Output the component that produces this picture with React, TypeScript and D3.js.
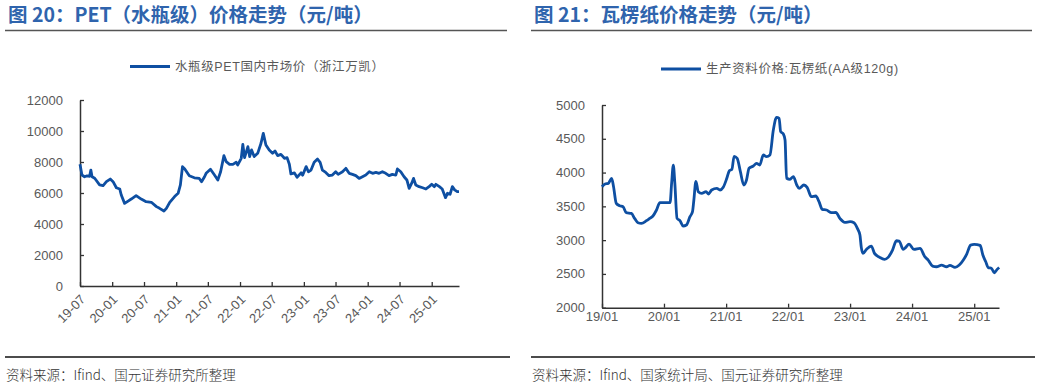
import React, { useEffect, useRef } from 'react'
import * as d3 from 'd3'

// 图20 水瓶级PET国内市场价（浙江万凯），元/吨
const petDates = [
  '2019-07-01', '2019-07-12', '2019-07-27', '2019-08-10', '2019-08-25', '2019-09-01', '2019-09-08', '2019-09-23',
  '2019-10-21', '2019-11-10', '2019-11-29', '2019-12-21', '2020-01-06', '2020-01-25', '2020-02-13', '2020-02-22',
  '2020-03-12', '2020-04-01', '2020-04-19', '2020-05-17', '2020-06-15', '2020-07-13', '2020-08-12', '2020-09-10',
  '2020-09-28', '2020-10-23', '2020-11-06', '2020-11-25', '2020-12-23', '2021-01-12', '2021-01-25', '2021-02-06',
  '2021-02-19', '2021-03-17', '2021-04-15', '2021-05-13', '2021-05-26', '2021-06-12', '2021-06-21', '2021-07-16',
  '2021-08-08', '2021-08-27', '2021-09-12', '2021-10-01', '2021-10-14', '2021-11-02', '2021-11-21', '2021-12-10',
  '2021-12-19', '2022-01-08', '2022-01-17', '2022-01-27', '2022-02-15', '2022-02-25', '2022-03-08', '2022-03-23',
  '2022-04-12', '2022-05-01', '2022-05-14', '2022-05-29', '2022-06-17', '2022-07-06', '2022-07-20', '2022-08-04',
  '2022-08-23', '2022-09-12', '2022-09-27', '2022-10-10', '2022-10-19', '2022-11-08', '2022-11-23', '2022-12-16',
  '2022-12-25', '2023-01-14', '2023-01-27', '2023-02-11', '2023-03-01', '2023-03-20', '2023-04-04', '2023-04-17',
  '2023-05-06', '2023-05-25', '2023-06-13', '2023-07-02', '2023-07-16', '2023-08-10', '2023-08-29', '2023-09-17',
  '2023-10-06', '2023-10-25', '2023-11-13', '2023-12-02', '2023-12-21', '2024-01-10', '2024-01-29', '2024-02-17',
  '2024-03-06', '2024-03-25', '2024-04-13', '2024-05-02', '2024-05-21', '2024-06-10', '2024-06-19', '2024-07-08',
  '2024-07-27', '2024-08-12', '2024-08-25', '2024-09-08', '2024-09-19', '2024-10-02', '2024-10-21', '2024-11-10',
  '2024-11-29', '2024-12-17', '2025-01-01', '2025-01-16', '2025-01-25', '2025-02-14', '2025-03-02', '2025-03-21',
  '2025-04-01', '2025-04-16', '2025-04-29', '2025-05-12', '2025-05-27', '2025-06-06',
]
const petValues = [
  7850, 7160, 7050, 7100, 7080, 7480, 7050, 6950,
  6520, 6470, 6730, 6900, 6730, 6340, 6260, 5870,
  5330, 5480, 5610, 5830, 5610, 5440, 5400, 5120,
  5010, 4840, 5010, 5400, 5770, 5980, 6520, 7700,
  7550, 7110, 6980, 6940, 6730, 7050, 7270, 7530,
  7160, 6840, 7370, 8410, 8020, 7850, 7850, 7980,
  7810, 8240, 9140, 8280, 8990, 8350, 8780, 8350,
  8560, 9210, 9850, 9100, 8770, 8560, 8710, 8410,
  8490, 8240, 8280, 7850, 7230, 7300, 7020, 7300,
  7150, 7700, 7370, 7480, 7980, 8190, 7980, 7480,
  7330, 7120, 7160, 7370, 7200, 7370, 7590, 7270,
  7200, 7120, 6940, 7050, 7160, 7370, 7270, 7330,
  7270, 7370, 7270, 7120, 7200, 7160, 7550, 7370,
  7050, 6840, 6300, 6620, 6940, 6520, 6410, 6340,
  6260, 6410, 6560, 6410, 6560, 6410, 6260, 5700,
  5980, 5920, 6410, 6200, 6090, 6090,
]
const petYTicks = [0, 2000, 4000, 6000, 8000, 10000, 12000]

// 图21 生产资料价格:瓦楞纸(AA级120g)，元/吨
const paperDates = [
  '2019-01-01', '2019-01-19', '2019-02-07', '2019-02-27', '2019-03-10', '2019-03-26', '2019-04-15', '2019-05-05',
  '2019-05-24', '2019-06-23', '2019-07-12', '2019-08-01', '2019-08-21', '2019-09-20', '2019-10-09', '2019-10-28',
  '2019-11-18', '2019-12-08', '2020-01-07', '2020-02-06', '2020-02-15', '2020-02-25', '2020-03-05', '2020-03-18',
  '2020-04-04', '2020-04-23', '2020-05-12', '2020-06-02', '2020-06-17', '2020-06-25', '2020-07-07', '2020-07-21',
  '2020-08-10', '2020-09-05', '2020-09-18', '2020-10-08', '2020-11-07', '2020-11-26', '2020-12-15', '2021-01-05',
  '2021-01-20', '2021-02-04', '2021-02-17', '2021-03-07', '2021-03-26', '2021-04-15', '2021-05-01', '2021-05-16',
  '2021-06-10', '2021-06-29', '2021-07-18', '2021-08-08', '2021-08-27', '2021-09-16', '2021-10-06', '2021-10-25',
  '2021-11-09', '2021-11-18', '2021-12-04', '2021-12-14', '2021-12-23', '2022-01-12', '2022-02-01', '2022-02-21',
  '2022-03-07', '2022-04-04', '2022-04-23', '2022-05-18', '2022-06-13', '2022-07-02', '2022-07-21', '2022-08-15',
  '2022-09-14', '2022-10-09', '2022-11-02', '2022-12-01', '2023-01-01', '2023-01-24', '2023-02-13', '2023-02-28',
  '2023-03-08', '2023-03-18', '2023-04-07', '2023-05-06', '2023-05-25', '2023-06-24', '2023-07-23', '2023-08-13',
  '2023-09-08', '2023-10-01', '2023-10-17', '2023-11-10', '2023-11-25', '2023-12-14', '2024-01-12', '2024-02-17',
  '2024-03-16', '2024-04-05', '2024-05-01', '2024-05-24', '2024-06-23', '2024-07-22', '2024-08-11', '2024-09-10',
  '2024-10-05', '2024-10-29', '2024-11-18', '2024-12-11', '2025-01-01', '2025-02-05', '2025-02-21', '2025-03-10',
  '2025-03-24', '2025-04-13', '2025-04-29', '2025-05-16', '2025-05-28',
]
const paperValues = [
  3790, 3830, 3840, 3915, 3790, 3544, 3510, 3495,
  3406, 3396, 3322, 3258, 3248, 3288, 3322, 3357,
  3446, 3554, 3554, 3554, 3840, 4110, 3840, 3322,
  3288, 3209, 3224, 3347, 3421, 3594, 3870, 3717,
  3692, 3717, 3683, 3742, 3766, 3742, 3782, 3915,
  4028, 4048, 4240, 4211, 4013, 3816, 3890, 4063,
  4097, 4137, 4112, 4260, 4236, 4260, 4630, 4818,
  4803, 4606, 4571, 4482, 3915, 3900, 3940, 3816,
  3766, 3816, 3781, 3643, 3653, 3569, 3456, 3446,
  3406, 3411, 3322, 3263, 3273, 3258, 3174, 3075,
  2893, 2804, 2863, 2912, 2804, 2745, 2715, 2745,
  2853, 2991, 2986, 2863, 2893, 2942, 2863, 2878,
  2755, 2705, 2616, 2606, 2631, 2606, 2626, 2596,
  2631, 2705, 2794, 2927, 2937, 2922, 2779, 2680,
  2596, 2582, 2517, 2567, 2596,
]
const paperYTicks = [2000, 2500, 3000, 3500, 4000, 4500, 5000]

const BLUE = '#0E4FA2'
const TITLE_BLUE = '#2F64AD'
const GREY = '#595959'
const FONT = '"Liberation Sans", Arial, "Noto Sans CJK SC", sans-serif'
const CJK = '"Noto Sans CJK SC", "Liberation Sans", sans-serif'

const parse = d3.timeParse('%Y-%m-%d')

export default function App() {
  const ref = useRef<SVGSVGElement>(null)

  useEffect(() => {
    const svg = d3.select(ref.current)
    svg.selectAll('*').remove()

    // ---------- 标题、页脚 ----------
    const frame = (x0: number, x1: number, title: string, source: string) => {
      svg.append('text').attr('x', x0 + 3).attr('y', 22)
        .attr('font-family', CJK).attr('font-weight', 700).attr('font-size', 19.5)
        .attr('fill', TITLE_BLUE).text(title)
      svg.append('line').attr('x1', x0).attr('x2', x1).attr('y1', 30.5).attr('y2', 30.5)
        .attr('stroke', '#555').attr('stroke-width', 1.5)
      svg.append('line').attr('x1', x0).attr('x2', x1 + 3).attr('y1', 357).attr('y2', 357)
        .attr('stroke', '#111').attr('stroke-width', 1.5)
      svg.append('text').attr('x', x0 + 1).attr('y', 380)
        .attr('font-family', CJK).attr('font-weight', 300).attr('font-size', 13.5)
        .attr('fill', '#333').text(source)
    }
    frame(5, 507, '图 20：PET（水瓶级）价格走势（元/吨）', '资料来源：Ifind、国元证券研究所整理')
    frame(531, 1032, '图 21：瓦楞纸价格走势（元/吨）', '资料来源：Ifind、国家统计局、国元证券研究所整理')

    const legend = (x: number, y: number, label: string) => {
      svg.append('line').attr('x1', x).attr('x2', x + 40).attr('y1', y).attr('y2', y)
        .attr('stroke', BLUE).attr('stroke-width', 3)
      svg.append('text').attr('x', x + 45).attr('y', y).attr('dy', '0.35em')
        .attr('font-family', FONT).attr('font-size', 12.5).attr('letter-spacing', 0.6)
        .attr('fill', GREY).text(label)
    }
    legend(130, 66.5, '水瓶级PET国内市场价（浙江万凯）')
    legend(661, 69, '生产资料价格:瓦楞纸(AA级120g)')

    // ---------- 左图 PET ----------
    const petData = petDates.map((d, i) => ({ date: parse(d) as Date, value: petValues[i] }))
    const x1 = d3.scaleTime()
      .domain([parse('2019-07-01') as Date, parse('2025-06-06') as Date])
      .range([80, 459])
    const y1 = d3.scaleLinear().domain([0, 12000]).range([286, 100])

    const g1 = svg.append('g')
    const xAxis1 = g1.append('g').attr('transform', 'translate(0,286)')
      .call(d3.axisBottom(x1).ticks(d3.timeMonth.every(6)).tickSizeInner(-4).tickSizeOuter(0).tickFormat(() => ''))
    const yAxis1 = g1.append('g').attr('transform', 'translate(80,0)')
      .call(d3.axisLeft(y1).tickValues(petYTicks).tickSizeInner(-4).tickSizeOuter(0).tickFormat(() => ''))
    ;[xAxis1, yAxis1].forEach(a => {
      a.select('.domain').attr('stroke', '#333').attr('stroke-width', 1.5)
      a.selectAll('.tick line').attr('stroke', '#333').attr('stroke-width', 1.3)
    })

    g1.selectAll('.ylab').data(petYTicks).enter().append('text')
      .attr('x', 63).attr('y', d => y1(d)).attr('dy', '0.35em')
      .attr('text-anchor', 'end').attr('font-family', FONT).attr('font-size', 13)
      .attr('fill', GREY).text(d => d)

    const fmt1 = d3.timeFormat('%y-%m')
    g1.selectAll('.xlab').data(x1.ticks(d3.timeMonth.every(6) as d3.TimeInterval)).enter().append('text')
      .attr('transform', d => `translate(${x1(d) + 3},${297}) rotate(-45)`)
      .attr('text-anchor', 'end').attr('dy', '0.35em')
      .attr('font-family', FONT).attr('font-size', 13).attr('fill', GREY)
      .text(d => fmt1(d))

    g1.append('path').datum(petData)
      .attr('fill', 'none').attr('stroke', BLUE).attr('stroke-width', 2.8)
      .attr('stroke-linejoin', 'round')
      .attr('d', d3.line<{ date: Date; value: number }>().x(d => x1(d.date)).y(d => y1(d.value)))

    // ---------- 右图 瓦楞纸 ----------
    const paperData = paperDates.map((d, i) => ({ date: parse(d) as Date, value: paperValues[i] }))
    const x2 = d3.scaleTime()
      .domain([parse('2019-01-01') as Date, parse('2025-05-27') as Date])
      .range([602, 999])
    const y2 = d3.scaleLinear().domain([2000, 5000]).range([307.7, 105])

    const g2 = svg.append('g')
    const xAxis2 = g2.append('g').attr('transform', 'translate(0,307.7)')
      .call(d3.axisBottom(x2).ticks(d3.timeYear.every(1)).tickSizeInner(-4).tickSizeOuter(0).tickFormat(() => ''))
    const yAxis2 = g2.append('g').attr('transform', 'translate(602,0)')
      .call(d3.axisLeft(y2).tickValues(paperYTicks).tickSizeInner(-4).tickSizeOuter(0).tickFormat(() => ''))
    ;[xAxis2, yAxis2].forEach(a => {
      a.select('.domain').attr('stroke', '#333').attr('stroke-width', 1.5)
      a.selectAll('.tick line').attr('stroke', '#333').attr('stroke-width', 1.3)
    })

    g2.selectAll('.ylab').data(paperYTicks).enter().append('text')
      .attr('x', 585).attr('y', d => y2(d)).attr('dy', '0.35em')
      .attr('text-anchor', 'end').attr('font-family', FONT).attr('font-size', 13)
      .attr('fill', GREY).text(d => d)

    const fmt2 = d3.timeFormat('%y/%m')
    g2.selectAll('.xlab').data(x2.ticks(d3.timeYear.every(1) as d3.TimeInterval)).enter().append('text')
      .attr('x', d => x2(d)).attr('y', 321)
      .attr('text-anchor', 'middle')
      .attr('font-family', FONT).attr('font-size', 13).attr('fill', GREY)
      .text(d => fmt2(d))

    g2.append('path').datum(paperData)
      .attr('fill', 'none').attr('stroke', BLUE).attr('stroke-width', 2.8)
      .attr('stroke-linejoin', 'round')
      .attr('d', d3.line<{ date: Date; value: number }>()
        .curve(d3.curveMonotoneX).x(d => x2(d.date)).y(d => y2(d.value)))
  }, [])

  return (
    <div style={{ position: 'absolute', left: 0, top: 0 }}>
      <svg ref={ref} width={1038} height={386} style={{ display: 'block', background: '#fff' }} />
    </div>
  )
}
